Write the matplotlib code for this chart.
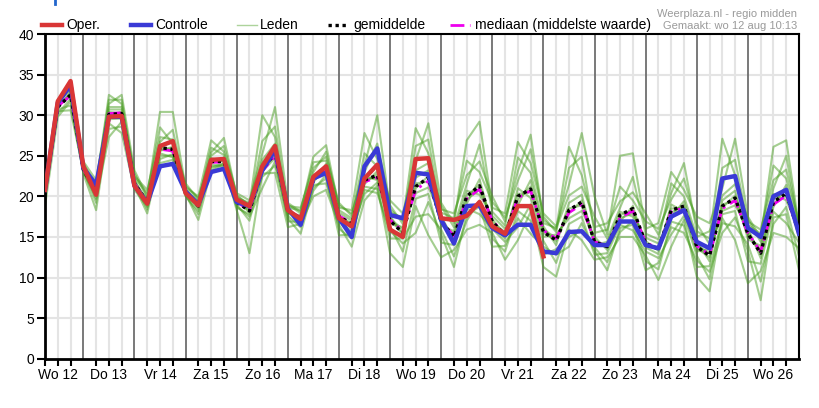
import numpy as np
import matplotlib
matplotlib.use("Agg")
import matplotlib.pyplot as plt
from matplotlib.lines import Line2D

plt.rcParams['font.family'] = ['Liberation Sans', 'DejaVu Sans']

# tijdstappen van 6 uur, in uren vanaf wo 12 00:00
tijden = np.arange(6, 361, 6)

dag_labels = ['Wo 12', 'Do 13', 'Vr 14', 'Za 15', 'Zo 16', 'Ma 17', 'Di 18', 'Wo 19',
              'Do 20', 'Vr 21', 'Za 22', 'Zo 23', 'Ma 24', 'Di 25', 'Wo 26']

# operationele run (stopt na ~10 dagen)
oper = [20.8, 31.7, 34.2, 23.7, 20.2, 29.8, 29.9, 21.3, 19.1, 26.2, 26.8, 20.4, 18.9, 24.5, 24.6,
        19.6, 18.8, 23.7, 26.2, 18.3, 17.2, 22.4, 23.7, 17.3, 16.3, 22.2, 23.9, 15.9, 15.0, 24.6,
        24.7, 17.3, 17.1, 17.6, 19.3, 16.3, 15.4, 18.8, 18.8, 12.6]

controle = [20.8, 31.5, 33.7, 23.5, 21.4, 29.8, 29.8, 21.3, 19.2, 23.7, 24.0, 20.6, 19.0, 23.0, 23.4,
            19.3, 18.8, 23.2, 25.7, 18.5, 16.5, 22.2, 22.9, 17.3, 15.0, 23.7, 25.9, 17.7, 17.3, 22.9,
            22.7, 17.1, 14.2, 18.8, 18.9, 16.1, 15.2, 16.5, 16.5, 13.2, 13.0, 15.6, 15.7, 14.0, 14.0,
            16.9, 16.9, 14.0, 13.6, 17.5, 18.3, 14.4, 13.6, 22.2, 22.5, 16.1, 15.0, 20.0, 20.8, 15.4]

gemiddelde = [20.8, 31.0, 32.5, 23.3, 20.5, 30.1, 30.2, 21.6, 19.3, 26.0, 25.8, 20.6, 18.8, 24.3, 24.3,
              19.3, 18.2, 23.3, 25.3, 18.2, 17.3, 22.0, 23.5, 17.5, 16.6, 22.0, 22.6, 17.0, 15.5, 21.2,
              22.3, 16.9, 15.0, 20.0, 21.3, 16.9, 15.2, 20.0, 20.9, 15.6, 14.6, 18.3, 19.3, 14.4, 13.8,
              17.7, 18.5, 14.2, 13.5, 18.3, 18.8, 13.8, 12.7, 18.8, 19.8, 15.4, 13.0, 19.3, 20.4, 15.4]

mediaan = [20.9, 31.1, 32.4, 23.3, 20.6, 30.2, 30.3, 21.6, 19.3, 25.8, 25.6, 20.6, 18.9, 24.2, 24.2,
           19.3, 18.3, 23.1, 25.0, 18.3, 17.4, 21.9, 23.4, 17.6, 16.7, 21.8, 22.3, 17.1, 15.7, 20.8,
           21.9, 17.0, 15.1, 19.7, 20.9, 17.0, 15.3, 19.8, 20.7, 15.8, 14.8, 18.0, 19.0, 14.4, 13.9,
           17.4, 18.2, 14.3, 13.6, 18.1, 18.6, 13.9, 12.8, 18.5, 19.5, 15.5, 13.2, 19.0, 20.1, 15.5]

# ensembleleden: een rij per tijdstap, een kolom per lid
leden = [
    [18.8, 19.6, 20.2, 20.5, 20.7, 20.8, 21.0, 21.1, 21.2, 21.3, 21.4, 21.5],
    [29.8, 30.7, 30.5, 30.2, 31.2, 31.0, 31.1, 30.9, 31.7, 31.5, 31.4, 31.9],
    [31.7, 31.2, 30.6, 32.0, 32.3, 32.7, 32.5, 32.9, 33.1, 34.0, 33.6, 33.3],
    [22.8, 23.0, 23.1, 23.2, 23.3, 23.4, 23.5, 23.6, 23.7, 23.9, 24.1, 24.3],
    [18.3, 20.0, 19.7, 19.2, 20.9, 20.5, 20.7, 20.3, 21.7, 21.4, 21.1, 22.0],
    [29.0, 28.3, 27.3, 29.5, 29.8, 30.4, 30.1, 30.7, 31.0, 32.5, 31.9, 31.4],
    [27.8, 28.6, 29.2, 29.6, 29.9, 30.2, 30.4, 30.7, 31.0, 31.4, 31.9, 32.5],
    [20.8, 21.5, 21.3, 21.1, 22.1, 21.8, 21.9, 21.6, 22.8, 22.5, 22.3, 23.2],
    [18.7, 18.4, 17.9, 18.9, 19.1, 19.4, 19.3, 19.6, 19.8, 20.8, 20.4, 20.0],
    [24.1, 24.6, 25.0, 25.3, 25.6, 25.8, 26.0, 26.3, 26.7, 27.3, 28.5, 30.4],
    [24.5, 25.2, 25.0, 24.8, 26.1, 25.6, 25.8, 25.4, 28.2, 27.0, 26.5, 30.4],
    [20.3, 20.1, 20.0, 20.4, 20.5, 20.7, 20.6, 20.8, 20.9, 21.6, 21.3, 21.1],
    [17.1, 17.8, 18.2, 18.5, 18.7, 18.8, 19.0, 19.2, 19.4, 19.6, 19.8, 20.0],
    [23.2, 23.9, 23.7, 23.5, 24.7, 24.3, 24.5, 24.1, 26.0, 25.4, 25.0, 26.9],
    [24.0, 23.8, 23.7, 24.1, 24.3, 24.6, 24.4, 24.8, 25.1, 27.2, 26.2, 25.5],
    [18.3, 18.6, 18.8, 19.0, 19.2, 19.3, 19.4, 19.6, 19.8, 20.0, 20.2, 20.4],
    [13.0, 17.8, 17.5, 17.0, 18.6, 18.2, 18.4, 18.0, 19.2, 19.0, 18.8, 19.5],
    [22.8, 22.4, 21.0, 23.1, 23.3, 23.8, 23.5, 24.1, 24.5, 30.0, 26.8, 25.2],
    [22.9, 23.8, 24.3, 24.7, 25.0, 25.3, 25.6, 26.0, 26.5, 27.3, 28.6, 31.0],
    [16.2, 17.6, 17.3, 16.9, 18.4, 18.0, 18.2, 17.8, 19.0, 18.8, 18.6, 19.2],
    [16.6, 16.2, 15.4, 16.9, 17.1, 17.5, 17.3, 17.7, 17.9, 18.6, 18.3, 18.1],
    [20.0, 20.7, 21.1, 21.4, 21.7, 22.0, 22.3, 22.6, 23.0, 23.5, 24.2, 24.9],
    [20.8, 22.7, 22.2, 21.6, 24.0, 23.4, 23.7, 23.1, 25.5, 24.9, 24.4, 26.3],
    [16.5, 16.0, 15.2, 16.9, 17.2, 17.7, 17.5, 18.0, 18.3, 19.2, 18.9, 18.6],
    [13.8, 14.8, 15.3, 15.7, 16.1, 16.4, 16.7, 17.0, 17.3, 17.6, 17.9, 18.3],
    [19.5, 21.2, 20.8, 20.3, 22.5, 21.8, 22.1, 21.5, 25.3, 23.8, 23.0, 27.8],
    [21.3, 20.9, 20.4, 21.7, 22.0, 22.7, 22.3, 23.1, 23.7, 30.0, 26.5, 24.6],
    [13.0, 14.8, 15.7, 16.3, 16.7, 17.0, 17.3, 17.6, 18.0, 18.4, 18.9, 19.5],
    [11.3, 14.8, 14.2, 13.2, 16.2, 15.5, 15.9, 15.2, 17.4, 17.0, 16.6, 17.9],
    [18.8, 17.5, 15.5, 19.7, 20.4, 21.6, 21.0, 22.3, 23.2, 28.4, 26.2, 24.4],
    [15.2, 17.8, 19.3, 20.3, 21.1, 21.8, 22.5, 23.2, 24.1, 25.3, 27.0, 29.0],
    [12.5, 15.9, 15.3, 14.3, 17.6, 16.8, 17.2, 16.4, 18.8, 18.4, 18.0, 19.2],
    [13.4, 12.6, 11.3, 14.0, 14.5, 15.3, 14.9, 15.7, 16.2, 17.9, 17.3, 16.7],
    [15.9, 17.0, 17.8, 18.5, 19.1, 19.6, 20.1, 20.7, 21.5, 22.6, 24.4, 26.9],
    [16.5, 19.5, 18.7, 17.8, 22.1, 20.8, 21.4, 20.2, 26.4, 24.3, 23.0, 29.2],
    [15.5, 14.8, 13.8, 16.0, 16.4, 17.2, 16.8, 17.6, 18.1, 20.0, 19.3, 18.6],
    [12.2, 13.2, 13.9, 14.4, 14.8, 15.2, 15.6, 16.0, 16.4, 16.9, 17.4, 17.9],
    [14.6, 18.2, 17.3, 16.2, 21.0, 19.6, 20.3, 18.9, 24.8, 23.1, 21.9, 26.7],
    [18.1, 17.0, 15.4, 19.0, 19.8, 21.2, 20.5, 22.0, 22.9, 27.6, 25.8, 24.1],
    [11.3, 12.8, 13.8, 14.5, 15.0, 15.5, 15.9, 16.3, 16.7, 17.1, 17.5, 17.9],
    [10.1, 13.5, 12.8, 11.8, 15.3, 14.5, 14.9, 14.0, 16.1, 15.9, 15.6, 16.3],
    [15.9, 15.0, 13.8, 16.6, 17.3, 18.5, 17.9, 19.2, 20.1, 26.1, 23.5, 21.4],
    [14.6, 15.8, 16.7, 17.5, 18.2, 18.9, 19.5, 20.2, 21.2, 22.6, 24.9, 27.8],
    [12.2, 13.7, 13.3, 12.8, 15.0, 14.3, 14.6, 14.0, 17.5, 16.2, 15.5, 20.0],
    [12.5, 11.9, 10.9, 13.0, 13.4, 14.0, 13.7, 14.4, 14.8, 16.7, 15.9, 15.3],
    [15.0, 15.6, 16.1, 16.5, 16.9, 17.3, 17.7, 18.1, 18.6, 19.4, 21.2, 25.0],
    [15.0, 17.0, 16.5, 15.8, 18.8, 17.9, 18.3, 17.5, 22.4, 20.5, 19.5, 25.3],
    [12.7, 12.0, 10.9, 13.2, 13.7, 14.5, 14.1, 14.9, 15.4, 17.9, 16.9, 16.0],
    [9.7, 11.0, 11.8, 12.4, 12.9, 13.3, 13.7, 14.2, 14.7, 15.3, 16.0, 16.7],
    [13.8, 16.9, 16.2, 15.3, 19.0, 18.0, 18.5, 17.5, 21.6, 20.4, 19.6, 23.0],
    [17.1, 16.4, 15.5, 17.6, 18.1, 18.9, 18.5, 19.4, 20.0, 24.1, 22.2, 20.8],
    [10.1, 11.3, 12.1, 12.7, 13.2, 13.6, 14.0, 14.5, 15.0, 15.7, 16.6, 17.5],
    [8.3, 11.4, 10.7, 9.8, 13.5, 12.5, 13.0, 12.0, 15.7, 14.8, 14.1, 16.7],
    [17.3, 16.7, 15.5, 17.8, 18.2, 19.0, 18.6, 19.5, 20.1, 27.1, 23.5, 21.0],
    [14.6, 16.3, 17.4, 18.2, 18.9, 19.5, 20.1, 20.7, 21.5, 22.6, 24.5, 27.1],
    [9.3, 14.1, 13.3, 12.0, 16.1, 15.2, 15.7, 14.7, 17.2, 16.9, 16.5, 17.5],
    [10.8, 9.5, 7.2, 11.7, 12.4, 13.4, 12.9, 13.9, 14.4, 15.9, 15.4, 14.9],
    [15.5, 16.6, 17.4, 18.1, 18.7, 19.2, 19.7, 20.3, 21.0, 22.0, 23.8, 26.1],
    [15.0, 18.7, 17.8, 16.7, 21.4, 20.1, 20.7, 19.5, 25.0, 23.3, 22.2, 26.9],
    [13.6, 12.6, 10.9, 14.3, 14.8, 15.6, 15.2, 15.9, 16.1, 16.7, 16.5, 16.3],
]

rood = '#d93636'
blauw = '#3a3ad6'
groen = '#4a9f22'
magenta = '#ee00ee'

W, H = 819, 408
fig = plt.figure(figsize=(W / 100, H / 100), dpi=100)
ax = fig.add_axes([45 / W, 1 - 358.7 / H, (799 - 45) / W, (358.7 - 34) / H])

# rasterlijnen
for t in range(6, 360, 6):
    if t % 24 == 0:
        ax.axvline(t, color='#6e6e6e', lw=1.3, zorder=1)
    else:
        ax.axvline(t, color='#e4e4e4', lw=1.5, zorder=0)
for v in range(5, 40, 5):
    ax.axhline(v, color='#e4e4e4', lw=1.5, zorder=0)

ax.plot(tijden, leden, color=groen, lw=1.5, alpha=0.5, zorder=2)
ax.plot(tijden, mediaan, color=magenta, lw=2, ls=(0, (5, 2, 1, 2)), zorder=3)
ax.plot(tijden, gemiddelde, color='black', lw=2.4, ls=(0, (1, 1.1)), zorder=4)
ax.plot(tijden, controle, color=blauw, lw=3.2, zorder=5)
ax.plot(tijden[:len(oper)], oper, color=rood, lw=3.2, zorder=6)

ax.set_xlim(6, 360)
ax.set_ylim(0, 40)
ax.set_yticks(range(0, 41, 5))
ax.set_xticks(np.arange(12, 360, 24))
ax.set_xticklabels(dag_labels)
ax.set_xticks([t for t in range(6, 360, 6) if t % 24 != 0 and t % 24 != 12], minor=True)
ax.tick_params(axis='both', which='both', direction='out', length=5, width=1.5,
               labelsize=10, colors='black', pad=2)
ax.tick_params(axis='y', length=6)

for kant in ['left', 'bottom']:
    ax.spines[kant].set_linewidth(2)
for kant in ['top', 'right']:
    ax.spines[kant].set_linewidth(1.5)

# legenda boven de grafiek
def legenda_item(x0, x1, tekst_x, tekst, **stijl):
    y = 1 - 25 / H
    fig.add_artist(Line2D([x0 / W, x1 / W], [y, y], transform=fig.transFigure, **stijl))
    fig.text(tekst_x / W, y, tekst, ha='left', va='center', fontsize=10)

legenda_item(42, 62, 66, 'Oper.', color=rood, lw=3.2)
legenda_item(131, 151, 155, 'Controle', color=blauw, lw=3.2)
legenda_item(237, 257, 260, 'Leden', color=groen, lw=1, alpha=0.45)
legenda_item(328, 348, 353, 'gemiddelde', color='black', lw=2.4, ls=(0, (1, 1.1)))
legenda_item(450, 470, 475, 'mediaan (middelste waarde)', color=magenta, lw=2, ls=(0, (5, 2, 1, 2)))

fig.text(797 / W, 1 - 14 / H, 'Weerplaza.nl - regio midden', ha='right', va='center',
         fontsize=8, color='#9a9a9a')
fig.text(797 / W, 1 - 26 / H, 'Gemaakt: wo 12 aug 10:13', ha='right', va='center',
         fontsize=8, color='#9a9a9a')

fig.add_artist(Line2D([55 / W, 55 / W], [1, 1 - 4 / H], transform=fig.transFigure,
                      color='#2266cc', lw=2))

fig.savefig('out.png', dpi=100)
